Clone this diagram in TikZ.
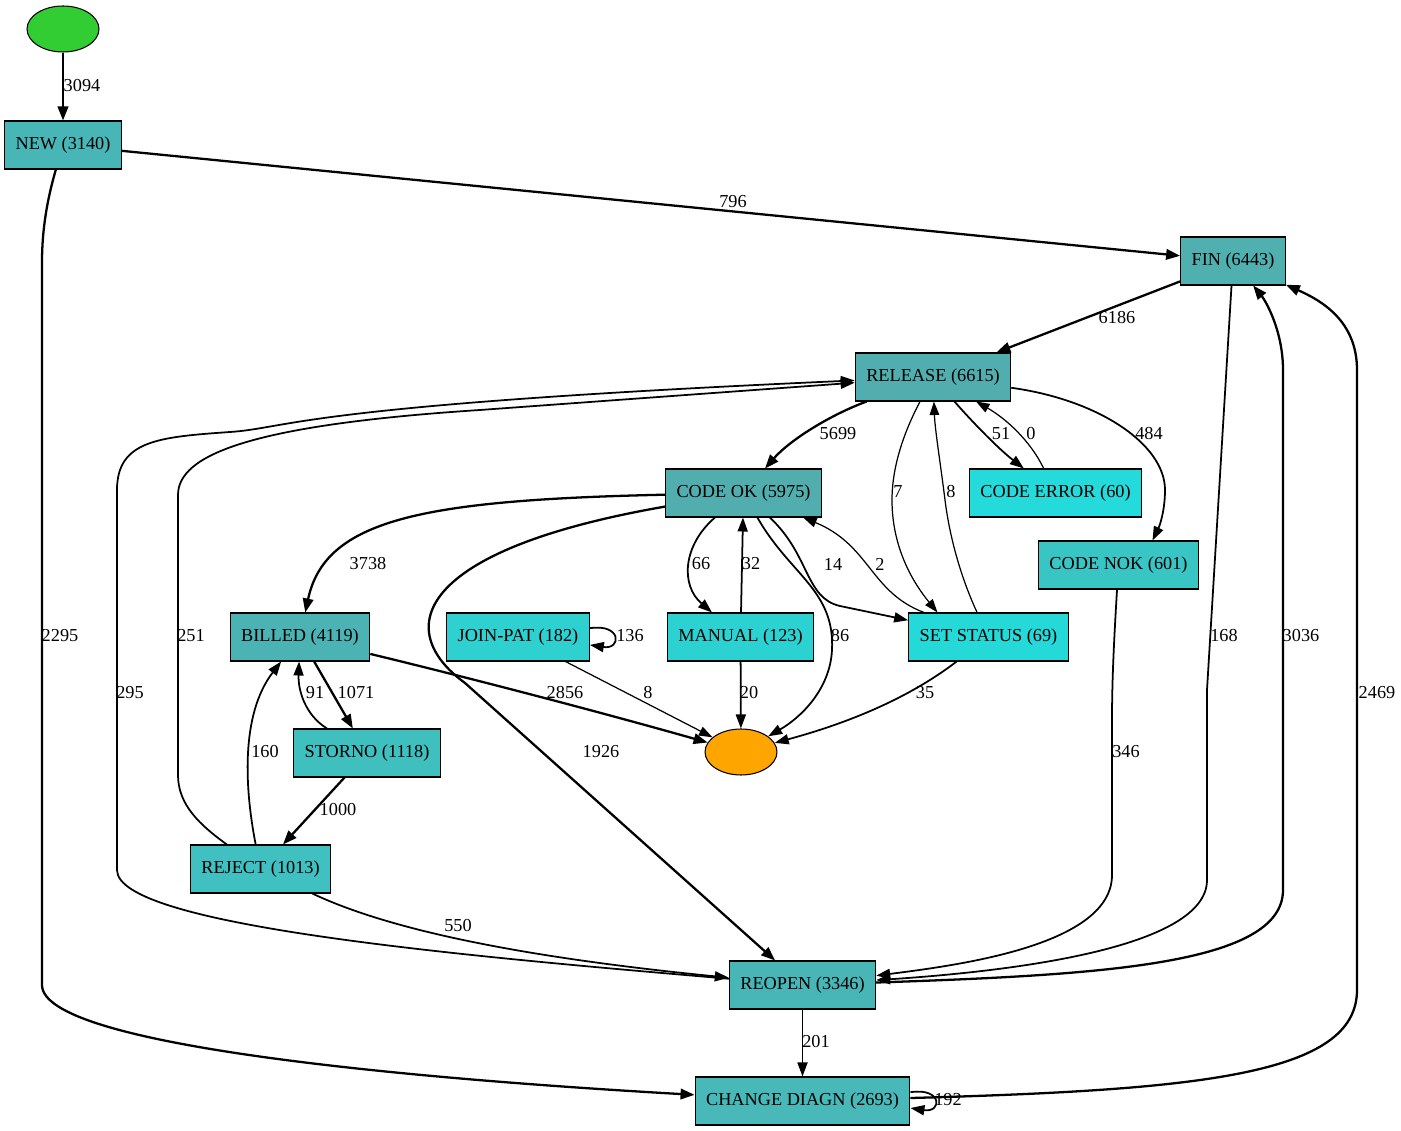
\documentclass[tikz,border=0pt]{standalone}
\usepackage{fontspec}
\setmainfont{Liberation Serif}
\usepackage{tikz}
\usetikzlibrary{arrows.meta, calc, shapes.geometric}

\definecolor{cNew}{HTML}{48B6B6}
\definecolor{cFin}{HTML}{50AFAF}
\definecolor{cRel}{HTML}{52AEAE}
\definecolor{cOk}{HTML}{52AEAE}
\definecolor{cErr}{HTML}{25DADA}
\definecolor{cNok}{HTML}{3AC5C5}
\definecolor{cBill}{HTML}{4BB3B3}
\definecolor{cJoin}{HTML}{2ED0D0}
\definecolor{cMan}{HTML}{2CD2D2}
\definecolor{cSet}{HTML}{25D9D9}
\definecolor{cStor}{HTML}{40BFBF}
\definecolor{cRej}{HTML}{40C0C0}
\definecolor{cReo}{HTML}{48B6B6}
\definecolor{cChg}{HTML}{48B8B8}
\definecolor{cStart}{HTML}{32CD32}
\definecolor{cEnd}{HTML}{FFA500}

\begin{document}
\begin{tikzpicture}[x=0.02cm, y=-0.02cm,
	act_node/.style={rectangle, draw, line width=0.6pt, inner xsep=0.22cm, inner ysep=0pt, minimum height=0.96cm, font=\fontsize{10.4}{12}\selectfont},
	ev_node/.style={ellipse, draw, line width=0.6pt, minimum width=1.44cm, minimum height=0.92cm, inner sep=0pt},
	lbl/.style={inner sep=0pt, font=\fontsize{10.4}{12}\selectfont},
	e_thick/.style={-{Triangle[length=0.28cm, width=0.21cm]}, line width=1.3pt},
	e_mid/.style={-{Triangle[length=0.28cm, width=0.2cm]}, line width=1.0pt},
	e_thin/.style={-{Triangle[length=0.27cm, width=0.19cm]}, line width=0.7pt}]
	
	\useasboundingbox (0,0) rectangle (1401,1131);
	
	\node[ev_node, fill=cStart] (start) at (63,29) {};
	\node[act_node, fill=cNew] (new) at (63,145) {NEW (3140)};
	\node[act_node, fill=cFin] (fin) at (1233,261) {FIN (6443)};
	\node[act_node, fill=cRel] (release) at (933,377) {RELEASE (6615)};
	\node[act_node, fill=cOk] (codeok) at (743.5,493) {CODE OK (5975)};
	\node[act_node, fill=cErr] (codeerr) at (1055.5,493) {CODE ERROR (60)};
	\node[act_node, fill=cNok] (codenok) at (1118.5,565) {CODE NOK (601)};
	\node[act_node, fill=cBill] (billed) at (300,637) {BILLED (4119)};
	\node[act_node, fill=cJoin] (joinpat) at (518,637) {JOIN-PAT (182)};
	\node[act_node, fill=cMan] (manual) at (740.5,637) {MANUAL (123)};
	\node[act_node, fill=cSet] (setstat) at (988.5,637) {SET STATUS (69)};
	\node[ev_node, fill=cEnd] (end) at (741,752) {};
	\node[act_node, fill=cStor] (storno) at (367,753) {STORNO (1118)};
	\node[act_node, fill=cRej] (reject) at (260.5,869) {REJECT (1013)};
	\node[act_node, fill=cReo] (reopen) at (802.5,985) {REOPEN (3346)};
	\node[act_node, fill=cChg] (chg) at (802.5,1101) {CHANGE DIAGN (2693)};
	
	% start and FIN
	\draw[e_thick] (start) -- (new) node[lbl] at (82,86) {3094};
	\draw[e_thick] (new) -- (fin) node[lbl] at (733,202) {796};
	\draw[e_thick] (new) .. controls (47,200) and (42,230) .. (42,262) -- (42,985) .. controls (42,1045) and (400,1078) .. (chg) node[lbl] at (60,636) {2295};
	\draw[e_thick] (fin) -- (release) node[lbl] at (1117,318) {6186};
	\draw[e_mid] (fin) -- (1207,690) -- (1207,880) .. controls (1207,950) and (1000,972) .. (reopen) node[lbl] at (1224,636) {168};
	\draw[e_thick] (reopen) .. controls (1100,975) and (1283,965) .. (1283,890) -- (1283,370) .. controls (1283,330) and (1265,300) .. (fin) node[lbl] at (1301,636) {3036};
	\draw[e_thick] (chg) .. controls (1200,1090) and (1357,1075) .. (1357,990) -- (1357,370) .. controls (1357,320) and (1320,300) .. (fin) node[lbl] at (1377,693) {2469};
	\draw[e_mid] ([yshift=5pt]chg.east) .. controls +(32,-5) and +(32,5) .. ([yshift=-4pt]chg.east) node[lbl] at (948,1100) {192};
	
	% RELEASE
	\draw[e_thick] (release) .. controls (830,415) and (790,440) .. (codeok) node[lbl] at (838,434) {5699};
	\draw[e_mid] (release) .. controls (975,425) and (1000,450) .. (codeerr) node[lbl] at (1001,434) {51};
	\draw[e_thin] (codeerr) .. controls (1030,440) and (1005,418) .. (release) node[lbl] at (1031,434) {0};
	\draw[e_mid] (release) .. controls (1100,400) and (1165,445) .. (1165,490) .. controls (1165,510) and (1160,525) .. ([xshift=0.68cm]codenok.north) node[lbl] at (1149,434) {484};
	\draw[e_thin] (release) .. controls (905,430) and (892,465) .. (892,500) .. controls (892,550) and (915,585) .. ([xshift=-1.02cm]setstat.north) node[lbl] at (898,492) {7};
	\draw[e_thin] (setstat) .. controls (962,580) and (950,540) .. (945,500) .. controls (940,460) and (935,430) .. (release) node[lbl] at (951,492) {8};
	
	% CODE OK
	\draw[e_thick] (codeok) .. controls (420,500) and (325,520) .. (billed) node[lbl] at (368,564) {3738};
	\draw[e_thick] (codeok) .. controls (415,550) and (392,630) .. (465,683) -- (reopen) node[lbl] at (601,752) {1926};
	\draw[e_mid] (codeok) .. controls (683,545) and (680,585) .. (manual) node[lbl] at (701,564) {66};
	\draw[e_mid] (manual) -- (codeok) node[lbl] at (751,564) {32};
	\draw[e_mid] (codeok) .. controls (810,555) and (805,598) .. (840,606) -- (setstat) node[lbl] at (833,564) {14};
	\draw[e_thin] (setstat) .. controls (870,592) and (870,545) .. (codeok) node[lbl] at (880,564) {2};
	\draw[e_mid] (codeok) .. controls (790,575) and (835,590) .. (832,650) .. controls (830,690) and (800,718) .. (end) node[lbl] at (840,636) {86};
	
	% middle row
	\draw[e_thick] (billed) .. controls (470,678) and (600,712) .. (end) node[lbl] at (565,693) {2856};
	\draw[e_thick] (billed) -- (storno) node[lbl] at (356,693) {1071};
	\draw[e_mid] (storno) .. controls (305,715) and (298,690) .. (billed) node[lbl] at (315,693) {91};
	\draw[e_mid] ([yshift=5pt]joinpat.east) .. controls +(32,-5) and +(32,5) .. ([yshift=-4.5pt]joinpat.east) node[lbl] at (630,636) {136};
	\draw[e_thin] (joinpat) -- (end) node[lbl] at (648,693) {8};
	\draw[e_mid] (manual) -- (end) node[lbl] at (749,693) {20};
	\draw[e_mid] (setstat) .. controls (900,705) and (830,728) .. (end) node[lbl] at (925,693) {35};
	
	% STORNO, REJECT
	\draw[e_thick] (storno) -- (reject) node[lbl] at (338,810) {1000};
	\draw[e_mid] (reject) .. controls (245,790) and (240,715) .. (billed) node[lbl] at (265,752) {160};
	\draw[e_mid] (reject) .. controls (200,825) and (178,805) .. (178,775) -- (178,495) .. controls (178,455) and (250,425) .. (480,410) -- (release) node[lbl] at (191,636) {251};
	\draw[e_mid] (reject) .. controls (400,935) and (550,960) .. (reopen) node[lbl] at (458,926) {550};
	\draw[e_mid] (reopen) .. controls (450,955) and (117,925) .. (117,870) -- (117,490) .. controls (117,440) and (160,437) .. (230,432) .. controls (290,428) and (300,405) .. (release) node[lbl] at (130,693) {295};
	
	% REOPEN
	\draw[e_mid] (codenok) .. controls (1114,640) and (1112,680) .. (1112,720) -- (1112,875) .. controls (1112,945) and (960,965) .. (reopen) node[lbl] at (1126,752) {346};
	\draw[e_mid] (reopen) -- (chg) node[lbl] at (816,1042) {201};
\end{tikzpicture}
\end{document}
